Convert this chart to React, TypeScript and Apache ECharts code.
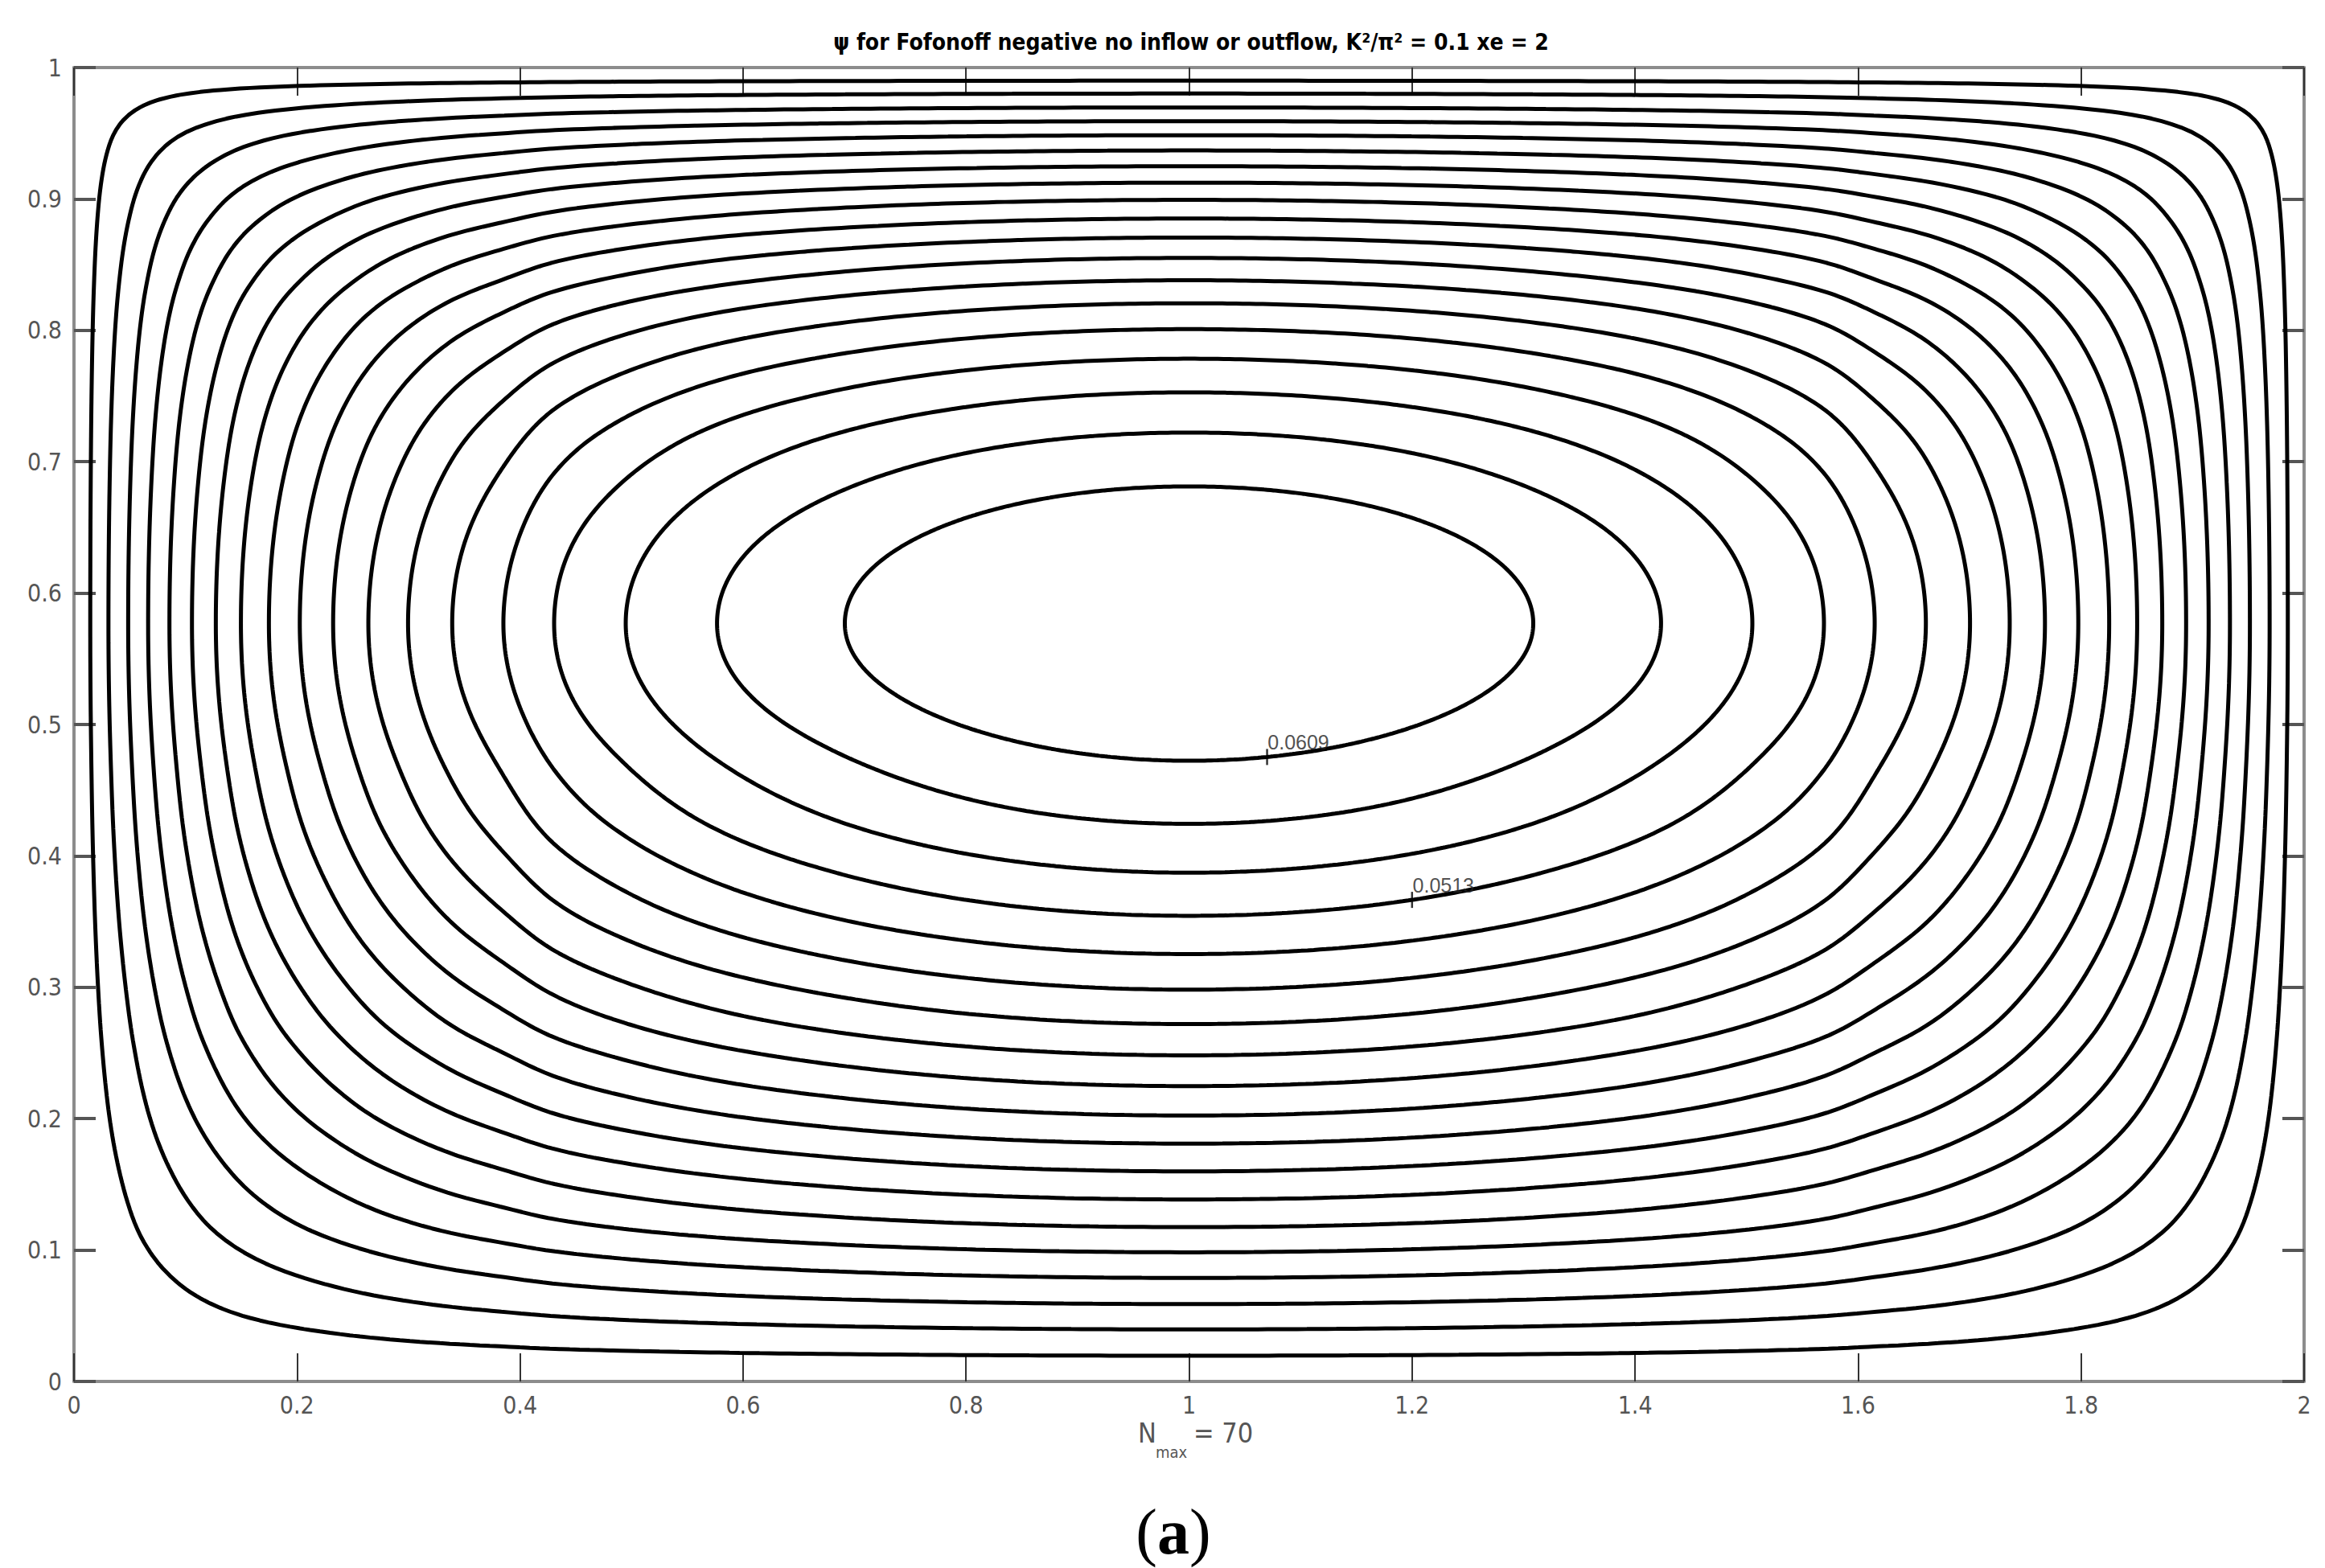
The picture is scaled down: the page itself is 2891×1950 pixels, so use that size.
import React, { useEffect, useRef } from "react";
import * as echarts from "echarts";

// ---- data ----
// contour levels (labels 0.0609 and 0.0513 read; equal spacing of 0.0032)
const LEVELS = [0.0609, 0.0577, 0.0545, 0.0513, 0.0481, 0.0449, 0.0417, 0.0385, 0.0353, 0.0321, 0.0289, 0.0257, 0.0225, 0.0193, 0.0161, 0.0129, 0.0097, 0.0065, 0.0033];
// estimated value of psi at the gyre centre
const PSI_MAX = 0.0645;
// row of the gyre centre (y) and its column (x)
const Y_CORE = 0.577;
const X_CORE = 1;
// where each contour (inner -> outer) crosses the centre row, west side
const X_WEST = [0.6913, 0.5767, 0.4948, 0.4306, 0.3851, 0.3392, 0.2996, 0.264, 0.2324, 0.2025, 0.1748, 0.1497, 0.1272, 0.1058, 0.0856, 0.0665, 0.0486, 0.0309, 0.0146];
// where each contour crosses the x = 1 column, north and south
const Y_NORTH = [0.6812, 0.7222, 0.7528, 0.7784, 0.8009, 0.8206, 0.8381, 0.8551, 0.8706, 0.8851, 0.8993, 0.9124, 0.9249, 0.9369, 0.9485, 0.9592, 0.9696, 0.9802, 0.99];
const Y_SOUTH = [0.4724, 0.4244, 0.3872, 0.3544, 0.3253, 0.2982, 0.272, 0.2482, 0.2248, 0.2024, 0.181, 0.1599, 0.1385, 0.1175, 0.0983, 0.0788, 0.0589, 0.0396, 0.0196];
// corner sharpness of the northern and southern halves
const K_NORTH = 0.3;
const K_SOUTH = 0;
// contour labels
const LABEL_LEVELS = [0.0609, 0.0513];
const LABEL_X = [1.07, 1.2];

const TITLE = "ψ for Fofonoff negative no inflow or outflow, K²/π² = 0.1 xe = 2";

const NARROW = "'Liberation Sans Narrow', 'Arial Narrow', 'Nimbus Sans Narrow', 'DejaVu Sans Condensed', 'Liberation Sans', sans-serif";
const SANS = "'Liberation Sans', Arial, sans-serif";
const SERIF = "'Liberation Serif', 'Times New Roman', serif";

// ---- monotone (pchip) interpolation through the read crossings ----
function pchip(xs: number[], ys: number[]) {
  const n = xs.length;
  const h: number[] = [];
  const d: number[] = [];
  for (let k = 0; k < n - 1; k++) {
    h.push(xs[k + 1] - xs[k]);
    d.push((ys[k + 1] - ys[k]) / h[k]);
  }
  const m: number[] = new Array(n).fill(0);
  for (let k = 1; k < n - 1; k++) {
    if (d[k - 1] * d[k] <= 0) m[k] = 0;
    else {
      const w1 = 2 * h[k] + h[k - 1];
      const w2 = h[k] + 2 * h[k - 1];
      m[k] = (w1 + w2) / (w1 / d[k - 1] + w2 / d[k]);
    }
  }
  m[0] = d[0];
  m[n - 1] = d[n - 2];
  return (x: number) => {
    if (x <= xs[0]) return ys[0];
    if (x >= xs[n - 1]) return ys[n - 1];
    let lo = 0, hi = n - 1;
    while (hi - lo > 1) {
      const mid = (lo + hi) >> 1;
      if (xs[mid] <= x) lo = mid; else hi = mid;
    }
    const k = lo;
    const t = (x - xs[k]) / h[k];
    const t2 = t * t, t3 = t2 * t;
    return (2 * t3 - 3 * t2 + 1) * ys[k] + (t3 - 2 * t2 + t) * h[k] * m[k] + (-2 * t3 + 3 * t2) * ys[k + 1] + (t3 - t2) * h[k] * m[k + 1];
  };
}

function invert(f: (v: number) => number, lo: number, hi: number, target: number, increasing: boolean) {
  let a = lo, b = hi;
  for (let it = 0; it < 50; it++) {
    const mid = (a + b) / 2;
    const v = f(mid);
    if ((v < target) === increasing) a = mid; else b = mid;
  }
  return (a + b) / 2;
}

const rel = LEVELS.map((c) => c / PSI_MAX);
// distance-from-peak coordinate u = sqrt(1 - psi/psiMax), nearly linear near the core
const uInner = rel.map((r) => Math.sqrt(1 - r));
const uOuterFirst = uInner.slice().reverse();

const Ux = pchip([0, ...X_WEST.slice().reverse(), X_CORE], [1, ...uOuterFirst, 0]);
const Us = pchip([0, ...Y_SOUTH.slice().reverse(), Y_CORE], [1, ...uOuterFirst, 0]);
const Un = pchip([Y_CORE, ...Y_NORTH, 1], [0, ...uInner, 1]);
const Fx = (x: number) => 1 - Math.pow(Ux(x), 2);
const Gs = (y: number) => 1 - Math.pow(Us(y), 2);
const Gn = (y: number) => 1 - Math.pow(Un(y), 2);

function other(r: number, a: number, k: number) {
  if (a <= r) return 1;
  if (k === 0) return Math.min(1, r / a);
  const v = Math.pow(r, -k) - Math.pow(a, -k) + 1;
  return Math.min(1, Math.pow(v, -1 / k));
}

function quadrant(i: number, north: boolean): number[][] {
  const r = rel[i];
  const xL = X_WEST[i];
  const yE = north ? Y_NORTH[i] : Y_SOUTH[i];
  const k = north ? K_NORTH : K_SOUTH;
  const G = north ? Gn : Gs;
  const pts: number[][] = [];
  const N = 110;
  for (let j = 0; j <= N; j++) {
    const x = xL + ((X_CORE - xL) * j) / N;
    const g = other(r, Fx(x), k);
    const y = north ? invert(Gn, Y_CORE, 1, g, false) : invert(Gs, 0, Y_CORE, g, true);
    pts.push([x, y]);
  }
  for (let j = 0; j <= N; j++) {
    const y = Y_CORE + ((yE - Y_CORE) * j) / N;
    const f = other(r, G(y), k);
    const x = invert(Fx, 0, X_CORE, f, true);
    pts.push([x, y]);
  }
  const ang = (p: number[]) => Math.atan2(Math.abs(p[1] - Y_CORE) / Math.abs(yE - Y_CORE), (X_CORE - p[0]) / (X_CORE - xL));
  pts.sort((a, b) => ang(a) - ang(b));
  return pts;
}

function contour(i: number): number[][] {
  const nw = quadrant(i, true);
  const sw = quadrant(i, false);
  const mir = (p: number[]) => [2 * X_CORE - p[0], p[1]];
  const loop = [
    ...nw.slice().reverse(),
    ...sw,
    ...sw.slice().reverse().map(mir),
    ...nw.map(mir),
  ];
  return loop.map((p) => [+p[0].toFixed(5), +p[1].toFixed(5)]);
}

function southAt(level: number, x: number) {
  const r = level / PSI_MAX;
  const g = other(r, Fx(x <= X_CORE ? x : 2 * X_CORE - x), K_SOUTH);
  return invert(Gs, 0, Y_CORE, g, true);
}

export default function App() {
  const ref = useRef<HTMLDivElement>(null);
  useEffect(() => {
    if (!ref.current) return;
    const chart = echarts.init(ref.current, undefined, { renderer: "svg" });

    const lineSeries = LEVELS.map((lv, i) => ({
      type: "line",
      name: String(lv),
      data: contour(i),
      showSymbol: false,
      symbol: "none",
      smooth: false,
      clip: true,
      lineStyle: { color: "#000", width: 5 },
      z: 3,
      silent: true,
    }));

    const labelSeries = {
      type: "scatter",
      data: LABEL_LEVELS.map((lv, j) => [LABEL_X[j], southAt(lv, LABEL_X[j]), lv]),
      symbol: "rect",
      symbolSize: [2.5, 20],
      itemStyle: { color: "#000" },
      z: 4,
      label: {
        show: true,
        position: [2, -8],
        align: "left",
        verticalAlign: "middle",
        formatter: (p: any) => p.value[2].toFixed(4),
        fontFamily: SANS,
        fontSize: 25,
        color: "#222",
      },
    };

    const xCommon = {
      type: "value",
      min: 0,
      max: 2,
      interval: 0.2,
      splitLine: { show: false },
      axisLine: { show: true, onZero: false, lineStyle: { color: "#8c8c8c", width: 4 } },
      axisTick: { show: true, inside: true, length: 35, lineStyle: { color: "#333", width: 2 } },
    };
    const yCommon = {
      type: "value",
      min: 0,
      max: 1,
      interval: 0.1,
      splitLine: { show: false },
      axisLine: { show: true, onZero: false, lineStyle: { color: "#8c8c8c", width: 4 } },
      axisTick: { show: true, inside: true, length: 27, lineStyle: { color: "#555", width: 4 } },
    };
    const fmt = (v: number) => String(+v.toFixed(1));

    chart.setOption({
      animation: false,
      backgroundColor: "#fff",
      grid: { left: 92, right: 26, top: 84, bottom: 232, containLabel: false },
      xAxis: [
        {
          ...xCommon,
          position: "bottom",
          axisLabel: { show: true, margin: 14, color: "#555", fontSize: 30, fontFamily: NARROW, formatter: fmt },
        },
        { ...xCommon, position: "top", axisLabel: { show: false } },
      ],
      yAxis: [
        {
          ...yCommon,
          position: "left",
          axisLabel: { show: true, margin: 15, color: "#555", fontSize: 30, fontFamily: NARROW, formatter: fmt },
        },
        { ...yCommon, position: "right", axisLabel: { show: false } },
      ],
      series: [...lineSeries, labelSeries],
      graphic: [
        {
          type: "text",
          x: 1481,
          y: 52,
          style: { text: TITLE, align: "center", verticalAlign: "middle", fontFamily: NARROW, fontWeight: "bold", fontSize: 28, fill: "#000" },
        },
        {
          type: "text",
          x: 1415,
          y: 1799,
          style: { text: "N", align: "left", verticalAlign: "bottom", fontFamily: NARROW, fontSize: 34, fill: "#555" },
        },
        {
          type: "text",
          x: 1437,
          y: 1816,
          style: { text: "max", align: "left", verticalAlign: "bottom", fontFamily: NARROW, fontSize: 20, fill: "#555" },
        },
        {
          type: "text",
          x: 1484,
          y: 1799,
          style: { text: "= 70", align: "left", verticalAlign: "bottom", fontFamily: NARROW, fontSize: 34, fill: "#555" },
        },
        {
          type: "text",
          x: 1459,
          y: 1905,
          style: {
            text: "{p|(}{a|a}{p|)}",
            align: "center",
            verticalAlign: "middle",
            rich: {
              p: { fontFamily: SERIF, fontSize: 80, fill: "#000" },
              a: { fontFamily: SERIF, fontSize: 80, fontWeight: "bold", fill: "#000" },
            },
          },
        },
      ],
    });
    return () => chart.dispose();
  }, []);
  return <div ref={ref} style={{ position: "absolute", left: 0, top: 0, width: 2891, height: 1950, background: "#fff" }} />;
}
